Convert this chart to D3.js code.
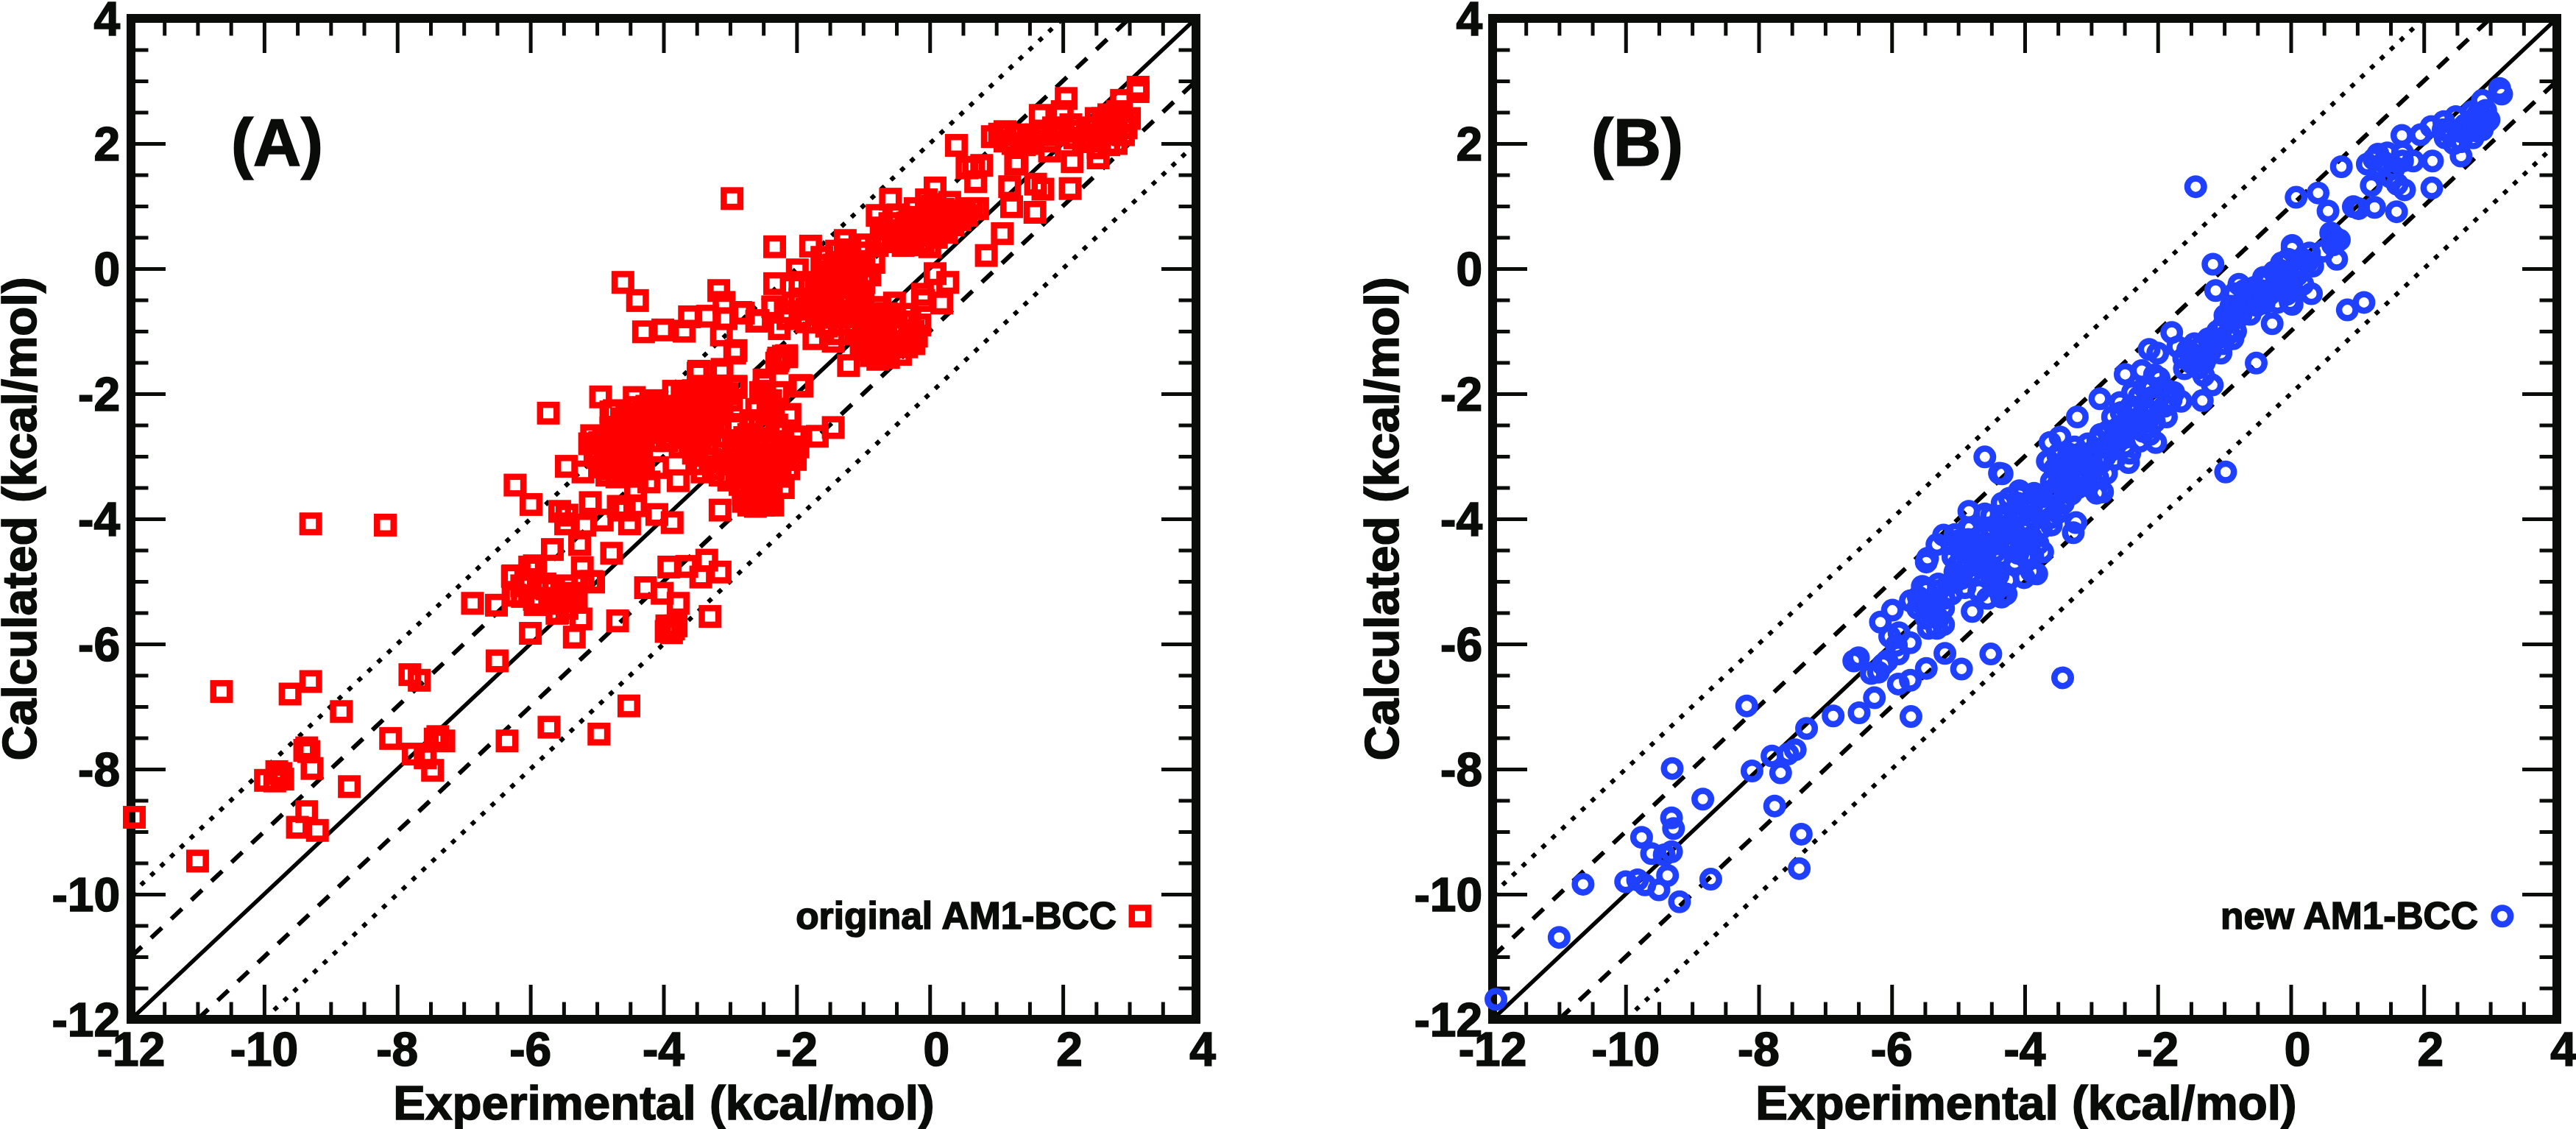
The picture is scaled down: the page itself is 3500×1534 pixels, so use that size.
<!DOCTYPE html>
<html><head><meta charset="utf-8">
<style>html,body{margin:0;padding:0;background:#fff}svg{display:block}</style>
<script src="https://cdn.jsdelivr.net/npm/d3@7"></script></head>
<body><svg id="c" width="3500" height="1534"></svg>
<script>
const majorTicks=[-12,-10,-8,-6,-4,-2,0,2,4];
const minorTicks=[-11.5,-11,-10.5,-9.5,-9,-8.5,-7.5,-7,-6.5,-5.5,-5,-4.5,-3.5,-3,-2.5,-1.5,-1,-0.5,0.5,1,1.5,2.5,3,3.5];
const xTitle="Experimental (kcal/mol)", yTitle="Calculated (kcal/mol)";
const refOffsets=[0,1,-1,2,-2];
const originalAM1BCC=[
[-9.30,-4.08],[-8.18,-4.10],[-10.64,-6.76],[-9.30,-6.60],[-9.61,-6.80],[-7.81,-6.49],[-7.67,-6.58],[-8.84,-7.08],[-8.10,-7.51],[-6.35,-7.55],[-5.72,-7.33],[-4.97,-7.44],[-4.52,-6.99],[-7.39,-7.48],[-7.30,-7.55],[-7.43,-7.52],[-7.76,-7.76],[-7.58,-7.82],[-7.47,-8.02],[-9.36,-7.66],[-9.33,-7.72],[-9.39,-7.70],[-9.28,-7.99],[-9.98,-8.18],[-9.81,-8.04],[-9.72,-8.16],[-9.84,-8.19],[-9.75,-8.07],[-8.72,-8.28],[-9.36,-8.68],[-9.50,-8.93],[-9.20,-8.98],[-11.95,-8.77],[-11.0,-9.47],[-6.50,-6.27],[-6.0,-5.83],[-5.34,-5.89],[-4.69,-5.63],[-6.87,-5.35],[-6.51,-5.38],[-5.67,-4.49],[-5.26,-4.41],[-4.78,-4.55],[-5.22,-4.78],[-4.27,-5.10],[-5.94,-4.75],[-6.26,-4.91],
[-6.07,-4.97],[-6.26,-5.22],[-5.94,-5.29],[-5.65,-5.13],[-5.53,-5.29],[-5.40,-5.19],[-5.59,-5.50],[-5.24,-5.60],[-5.08,-5.0],[-5.34,-5.32],[-5.78,-5.04],[-5.46,-5.07],[-6.13,-5.07],
[-5.73,-2.31],[-4.945,-2.05],[-4.44,-2.06],[-6.23,-3.46],[-5.99,-3.77],[-5.46,-3.16],[-5.21,-3.25],[-3.48,-1.67],[-3.13,-1.65],[-2.93,-1.35],[-2.91,-1.90],[-2.49,-1.78],[-2.27,-1.43],[-2.15,-1.41],[-1.95,-1.87],
[-6.23,-5.22],[-6.27,-4.92],[-6.01,-4.77],[-5.92,-4.80],[-5.93,-5.37],[-6.12,-5.24],[-5.21,-5.0],[-5.05,-5.01],[-5.75,-5.12],[-5.45,-5.20],[-5.53,-5.31],[-5.60,-5.51],[-5.31,-5.27],[-5.45,-5.43],[-5.71,-5.35],[-5.86,-5.27],
[-5.56,-3.88],[-5.45,-3.94],[-5.47,-4.08],[-5.10,-3.74],[-5.18,-4.10],[-4.92,-4.02],[-4.68,-3.80],[-4.51,-4.08],[-4.42,-3.79],[-4.59,-3.86],[-4.10,-3.93],[-3.87,-4.06],[-3.15,-3.86],[-3.78,-3.39],[-4.22,-3.41],[-4.42,-3.55],[-4.09,-3.18],
[-3.92,-4.77],[-3.65,-4.76],[-3.35,-4.66],[-3.44,-4.93],[-3.15,-4.85],[-4.02,-5.19],[-3.78,-5.35],[-3.30,-5.56],[-3.95,-5.71],[-3.85,-5.76],[-3.88,-5.82],[-3.81,-5.71],[-3.96,-5.80],
[-5.08,-2.67],[-5.11,-2.80],[-5.03,-2.90],[-4.96,-2.78],[-4.90,-2.70],[-4.88,-2.88],[-4.99,-3.02],[-4.84,-3.05],[-4.92,-3.17],[-4.81,-2.75],[-4.75,-2.62],[-4.72,-2.86],[-4.69,-3.01],[-4.78,-3.20],[-4.66,-3.13],[-4.62,-2.72],[-4.58,-2.90],[-4.55,-3.07],[-4.60,-3.25],[-4.48,-2.83],[-4.46,-2.98],[-4.43,-3.15],[-4.50,-3.30],[-4.37,-2.86],[-4.33,-3.02],[-4.30,-3.20],[-4.38,-2.70],[-4.85,-3.30],[-4.70,-3.33],[-4.40,-3.32],
[-4.79,-2.29],[-4.79,-2.55],[-4.63,-2.40],[-4.55,-2.32],[-4.48,-2.50],[-4.40,-2.22],[-4.30,-2.30],[-4.27,-2.55],[-4.20,-2.40],[-4.10,-2.12],[-4.02,-2.35],[-4.05,-2.60],[-3.95,-2.50],[-3.88,-2.70],[-3.80,-2.20],[-3.72,-2.05],[-3.68,-2.40],[-3.62,-2.60],[-3.55,-1.95],[-3.50,-2.20],[-3.42,-2.35],[-3.38,-1.90],[-3.30,-2.10],[-3.25,-2.48],[-3.18,-1.95],[-3.12,-2.20],[-3.05,-2.00],[-3.30,-2.65],[-3.46,-2.70],[-3.60,-2.80],[-3.75,-2.85],[-4.15,-2.75],[-3.43,-2.63],[-2.91,-2.49],[-2.43,-2.59],[-2.21,-2.63],[-2.10,-2.33],
[-4.35,-2.42],[-4.25,-2.2],[-4.12,-2.28],[-4.12,-2.48],[-3.98,-2.22],[-3.9,-2.4],[-3.82,-2.55],[-3.75,-2.3],[-3.6,-2.18],[-3.58,-2.45],[-3.5,-2.55],[-3.42,-2.08],[-3.35,-2.5],[-3.22,-2.32],[-3.65,-2.0],[-3.45,-1.88],[-3.3,-1.9],[-3.2,-2.15],[-4.6,-2.55],[-4.55,-2.7],[-4.3,-2.68],[-4.2,-2.62],[-3.95,-2.75],[-3.7,-2.7],[-2.98,-2.1],[-2.6,-2.25],[-2.55,-2.45],[-2.35,-2.3],[-2.3,-2.5],
[-3.55,-2.95],[-3.50,-3.12],[-3.42,-3.25],[-3.35,-2.90],[-3.30,-3.05],[-3.25,-3.20],[-3.20,-2.80],[-3.15,-3.30],[-3.10,-2.95],[-3.05,-3.12],[-3.02,-3.38],[-2.95,-2.75],[-2.92,-2.88],[-2.90,-3.02],[-2.88,-3.20],[-2.85,-3.45],[-2.80,-3.60],[-2.78,-2.70],[-2.74,-2.92],[-2.72,-3.10],[-2.70,-3.30],[-2.68,-3.50],[-2.65,-3.70],[-2.62,-2.80],[-2.60,-3.00],[-2.58,-3.18],[-2.55,-3.38],[-2.52,-3.58],[-2.50,-3.78],[-2.47,-2.85],[-2.45,-3.05],[-2.42,-3.25],[-2.40,-3.45],[-2.38,-3.65],[-2.36,-3.78],[-2.33,-2.78],[-2.30,-2.95],[-2.28,-3.12],[-2.25,-3.32],[-2.20,-3.50],[-2.18,-2.85],[-2.15,-3.05],[-2.12,-3.20],[-2.08,-2.95],[-2.02,-3.05],[-1.98,-2.85],[-2.00,-2.70],[-2.80,-3.72],[-2.72,-3.78],[-2.62,-3.80],
[-2.33,0.35],[-1.79,0.36],[-0.59,1.11],[-1.27,0.45],[-1.99,-0.02],[-2.33,-0.24],[-0.79,0.85],[0.08,1.29],[-0.05,1.10],[0.30,1.06],[-0.48,0.86],[-0.22,0.96],[0.04,1.0],[0.78,1.65],[0.56,1.61],[0.69,1.39],[0.40,1.97],[1.20,1.31],[1.23,0.99],[1.58,0.90],[1.59,1.35],[1.70,1.27],[2.11,1.28],[2.14,1.71],[1.31,1.69],[1.09,0.56],[0.85,0.21],[0.08,-0.08],[0.27,-0.22],[0.18,-0.55],[-0.09,-0.51],[-0.11,-0.41],[-0.53,-0.55],[-0.44,-1.37],[-1.22,-1.55],[-1.74,-1.12],[-1.45,-1.16],[-0.25,-1.0],[-0.24,-1.2],[-0.20,-1.08],[-1.45,-2.54],[-1.69,-2.68],[-1.93,-1.87],[-2.15,-1.39],[-2.28,-1.47],[-2.80,-0.71],[-2.60,-0.84],[-2.26,-0.96],[-2.36,-0.61],[-2.48,-1.84],[-2.91,-1.31],[-2.91,-1.88],[-2.97,1.12],
[-0.70,0.45],[-0.84,0.10],[-0.55,0.61],[-0.33,0.73],[-0.33,0.43],[-0.03,0.80],[-0.03,0.57],[0.19,0.76],[0.19,0.65],[0.41,0.88],[0.63,0.96],[0.72,0.96],[0.52,0.92],[0.34,0.80],[-0.55,0.43],[-0.18,0.76],[0.11,0.92],[-0.48,0.49],[-0.79,0.37],[-0.11,0.53],[-0.40,0.37],[-0.73,0.65],
[-0.65,0.5],[-0.6,0.72],[-0.4,0.6],[-0.25,0.55],[-0.15,0.65],[-0.25,0.38],[-0.1,0.42],[0.05,0.65],[0.1,0.5],[0.25,0.58],[0.35,0.7],[0.45,0.78],[0.55,0.85],[0.3,0.9],[0.2,0.95],[-0.05,0.95],[-0.3,0.82],[0.0,0.35],
[-1.62,0.18],[-1.43,0.06],[-1.25,0.22],[-0.99,0.25],[-1.62,-0.18],[-1.80,-0.26],[-1.95,-0.22],[-1.43,-0.22],[-1.23,-0.14],[-0.99,-0.22],[-1.51,-0.53],[-1.29,-0.49],[-1.07,-0.45],[-1.95,-0.49],[-1.77,-0.57],[-2.17,-0.69],[-1.95,-0.77],[-1.69,-0.73],[-1.40,-0.73],[-1.18,-0.77],[-0.92,-0.73],[-2.13,-0.80],
[-1.55,0.05],[-1.50,-0.05],[-1.35,0.1],[-1.3,-0.05],[-1.15,0.05],[-1.1,-0.1],[-1.0,0.05],[-1.6,-0.35],[-1.45,-0.4],[-1.3,-0.3],[-1.15,-0.3],[-1.0,-0.38],[-0.9,-0.1],[-1.2,0.3],[-1.05,0.38],[-1.4,0.28],
[-2.05,-0.55],[-1.85,-0.65],[-1.6,-0.62],[-1.5,-0.78],[-1.3,-0.68],[-1.1,-0.62],[-1.0,-0.85],[-1.85,-0.85],[-1.55,-0.92],
[-0.84,-0.80],[-0.70,-0.92],[-0.55,-0.77],[-0.37,-0.73],[-0.99,-1.0],[-0.84,-1.16],[-0.66,-1.12],[-0.48,-1.04],[-1.03,-1.24],[-0.88,-1.39],[-0.70,-1.31],[-1.36,-1.04],[-1.21,-0.88],
[-1.0,-0.65],[-0.75,-0.62],[-0.65,-0.72],[-0.5,-0.9],[-0.75,-1.02],[-0.6,-1.25],[-0.45,-1.2],[-0.3,-0.85],[-0.15,-0.9],[-0.3,-1.1],[-0.35,-1.25],[-0.9,-1.05],[-0.95,-1.3],[-0.78,-1.45],[-0.62,-1.42],
[-2.54,-1.98],[-2.28,-1.98],[-2.43,-2.18],[-2.69,-2.43],[-2.43,-2.49],[-2.72,-2.65],[-2.02,-2.92],[-2.17,-3.04],[-2.43,-2.96],[-2.43,-3.71],[-2.39,-3.51],
[2.05,2.72],[1.66,2.45],[3.13,2.83],[3.13,2.90],[2.88,2.69],[1.99,2.51],[0.66,1.62],[1.29,1.67],[2.53,1.77],
[0.94,2.11],[1.13,2.04],[1.29,2.14],[1.48,2.09],[1.61,2.14],[1.80,2.04],[1.93,2.14],[2.12,2.30],[2.18,2.09],[2.50,2.40],[2.53,2.09],[2.69,2.46],[2.72,2.19],[2.91,2.35],[2.91,2.14],[2.53,1.93],[2.37,2.25],[2.82,2.51],[1.86,2.25],[1.42,1.98],[1.13,2.19],[2.31,2.03],[2.63,2.30],[3.0,2.40],[1.8,1.88],[2.69,1.98],
[1.05,2.15],[1.25,2.0],[1.55,2.0],[1.7,2.2],[2.0,2.2],[2.25,2.2],[2.4,2.1],[2.6,2.15],[2.8,2.25],[2.8,2.0],[2.6,2.4],[2.95,2.25],
[-4.61,-0.22],[-4.39,-0.51],[-4.30,-1.01],[-4.01,-0.98],[-3.69,-1.0],[-3.61,-0.77],[-3.34,-0.76],[-3.17,-0.35],[-3.09,-0.54],[-3.06,-0.80],[-2.84,-0.70],[-2.58,-0.83],[-3.13,-1.06],[-3.47,-1.64],[-3.12,-1.61],[-2.93,-1.90],[-3.28,-1.90],[-3.62,-1.96],[-3.44,-2.24],[-3.22,-2.27],[-2.49,-1.96],[-1.92,-1.88],[-2.20,-1.40],[-2.30,-1.51],[-2.39,-2.11],[-2.11,-2.35],[-2.68,-2.46],[-2.45,-2.53],[-2.90,-2.54],[-2.02,-2.69],[-3.85,-1.96],[-4.17,-2.11],[-4.74,-2.27]
];
const newAM1BCC=[
[-11.95,-11.68],[-11.0,-10.69],[-10.64,-9.84],[-10.0,-9.80],[-9.82,-9.77],[-9.71,-9.85],[-9.50,-9.93],[-9.37,-9.70],[-9.19,-10.12],[-8.72,-9.76],[-9.76,-9.09],[-9.61,-9.35],[-9.42,-9.37],[-9.31,-9.32],[-9.28,-8.95],[-9.31,-8.78],[-8.84,-8.48],[-9.30,-7.99],[-8.18,-6.99],[-8.10,-8.03],[-7.80,-7.79],[-7.67,-8.06],[-7.56,-7.76],[-7.45,-7.69],[-7.28,-7.35],[-7.76,-8.59],[-7.36,-9.04],[-7.39,-9.59],[-6.88,-7.15],[-6.49,-7.10],[-6.26,-6.86],[-5.71,-7.16],[-5.90,-6.64],[-5.72,-6.58],[-5.48,-6.39],[-4.95,-6.40],[-5.20,-6.15],[-4.51,-6.16],[-3.43,-6.54],
[-6.57,-6.27],[-6.50,-6.22],[-6.31,-6.47],[-6.20,-6.45],[-6.13,-6.33],[-6.07,-6.27],[-5.90,-6.16],[-5.72,-5.98],[-6.03,-5.88],[-5.89,-5.82],[-5.93,-6.02],[-6.17,-5.65],[-5.99,-5.46],[-5.72,-5.31],[-5.54,-5.08],[-5.48,-5.14],[-5.30,-5.04],[-5.21,-5.27],[-5.61,-5.43],[-5.48,-5.43],[-5.37,-5.39],[-5.22,-5.43],[-5.48,-5.59],[-5.30,-5.59],[-5.32,-5.75],[-5.22,-5.69],[-4.79,-5.48],[-4.69,-5.16],[-4.56,-5.27],[-4.28,-5.20],[-4.41,-5.12],[-4.25,-4.98],[-5.04,-5.0],[-4.82,-4.88],[-4.52,-4.80],[-4.01,-4.94],[-3.82,-4.88],[-3.90,-4.84],[-3.73,-4.53],[-3.88,-4.59],[-5.46,-4.63],[-5.48,-4.69],[-5.32,-4.41],[-5.22,-4.26],[-4.84,-3.88],[-4.60,-3.92],[-4.60,-3.01],[-4.38,-3.27],
[-5.08,-4.61],[-4.97,-4.49],[-4.85,-4.33],[-5.0,-4.73],[-4.78,-4.53],[-4.63,-4.41],[-4.49,-4.26],[-4.45,-4.53],[-4.6,-4.65],[-4.26,-4.45],[-4.12,-4.26],[-3.90,-4.29],[-4.34,-3.75],[-4.08,-3.63],[-4.27,-3.98],[-4.04,-3.94],[-3.82,-3.63],[-3.75,-3.86],[-3.64,-3.59],[-3.60,-3.98],[-3.42,-3.75],[-3.42,-3.16],[-3.64,-3.08],[-3.49,-2.96],[-3.34,-3.51],[-3.97,-4.10],[-4.52,-4.14],[-4.82,-4.14],[-3.27,-4.22],[-3.23,-4.06],[-3.60,-4.10],[-3.49,-3.43],
[0.02,0.37],[-1.17,0.07],[-1.13,-0.35],[-0.78,-0.25],[-1.79,-1.02],[-0.28,-0.88],[-0.52,-1.51],[-0.98,-3.25],[-1.33,-2.11],[-1.18,-1.86],[-2.13,-1.29],[-2.0,-1.35],[-2.49,-1.69],[-2.24,-1.63],[-2.87,-2.08],[-3.21,-2.37],[-3.47,-2.69],[-3.62,-2.78],[-3.66,-3.08],[-2.03,-2.78],[-1.87,-2.37],[-1.65,-2.12],[-2.44,-3.10],[-2.77,-3.27],[-2.83,-3.57],[-2.92,-3.59],[-4.34,-3.28],
[-3.34,-2.96],[-3.12,-3.08],[-3.42,-3.27],[-3.20,-3.39],[-2.97,-3.20],[-2.79,-3.0],[-2.86,-2.65],[-2.68,-2.37],[-2.57,-2.14],[-2.38,-1.98],[-2.49,-2.49],[-2.31,-2.25],[-2.16,-2.45],[-2.12,-2.65],[-2.49,-2.84],[-2.27,-2.76],[-2.68,-2.73],[-2.09,-2.06],[-2.05,-1.70],[-1.94,-1.90],[-1.76,-1.98],[-2.20,-1.90],[-1.50,-1.35],[-1.24,-1.12],[-1.39,-1.59],[-1.20,-1.31],[-1.02,-1.20],[-0.83,-1.0],[-1.61,-1.43],[-1.31,-1.71],[-0.8,-0.61],[-0.65,-0.45],[-0.43,-0.22],[-0.17,-0.02],[-0.61,-0.73],[-0.94,-0.73],[-0.32,-0.41],[-0.06,-0.41],[-0.1,0.10],[0.02,-0.57],[-0.5,-0.49],[-1.02,-0.92],[-0.87,-1.12],
[-4.08,-3.55],[-3.86,-3.59],[-3.60,-3.55],[-3.45,-3.75],[-4.23,-3.67],[-3.97,-3.82],[-3.71,-3.82],[-3.05,-3.47],
[-3.5,-3.0],[-3.4,-3.12],[-3.3,-3.05],[-3.25,-2.85],[-3.15,-2.95],[-3.05,-2.8],[-3.0,-3.05],[-2.95,-2.9],[-2.9,-2.75],[-2.85,-3.1],[-2.8,-2.85],[-2.75,-2.6],[-2.7,-2.9],[-2.65,-3.05],[-2.6,-2.55],[-2.6,-2.75],[-2.55,-2.3],[-2.5,-2.65],[-2.45,-2.4],[-2.42,-2.95],[-2.4,-2.2],[-2.35,-2.55],[-2.3,-2.4],[-2.28,-2.05],[-2.22,-2.6],[-2.2,-2.2],[-2.15,-2.3],[-2.1,-1.9],[-2.05,-2.45],[-2.0,-2.1],[-1.98,-1.75],[-1.9,-2.2],[-1.85,-1.95],[-1.8,-2.1],[-3.35,-3.35],[-3.3,-3.22],[-3.15,-3.25],[-3.55,-3.2],[-3.6,-3.4],[-3.5,-3.6],[-3.3,-3.6],[-3.2,-3.5],[-2.9,-3.35],[-3.75,-3.65],[-3.9,-3.7],[-4.1,-3.75],[-4.15,-3.9],[-4.2,-4.1],[-4.0,-3.8],[-3.85,-4.0],[-3.75,-4.15],[-3.65,-3.85],[-3.5,-3.9],[-4.35,-3.95],[-4.4,-4.1],[-4.3,-4.25],[-4.2,-4.35],[-4.05,-4.4],[-4.5,-3.95],[-4.6,-4.2],[-4.7,-4.3],[-4.85,-4.5],[-4.95,-4.65],[-5.1,-4.4],[-4.65,-4.55],[-4.4,-4.4],[-4.35,-4.6],[-4.7,-4.75],[-4.9,-4.8],[-5.0,-4.35],[-5.05,-4.25],[-4.85,-4.15],[-4.55,-4.45],
[-1.7,-1.25],[-1.6,-1.6],[-1.55,-1.3],[-1.5,-1.5],[-1.45,-1.2],[-1.4,-1.4],[-1.35,-1.25],[-1.3,-1.5],[-1.25,-1.4],[-1.15,-1.15],[-1.1,-1.0],[-1.05,-1.35],[-0.95,-1.05],[-0.9,-0.85],[-0.9,-0.6],[-0.85,-0.4],[-0.7,-0.55],[-0.75,-0.75],[-0.7,-0.35],[-0.6,-0.5],[-0.55,-0.3],[-0.45,-0.35],[-0.4,-0.55],[-0.35,-0.2],[-0.25,-0.3],[-0.25,-0.05],[-0.15,-0.2],[-0.05,-0.15],[-0.05,-0.05],[0.1,-0.1],[0.15,0.05],[0.25,0.1],
[-5.6,-5.25],[-5.55,-5.35],[-5.4,-5.5],[-5.35,-5.28],[-5.3,-5.15],[-5.15,-5.05],[-5.1,-5.2],[-5.05,-4.85],[-4.95,-4.95],[-4.9,-5.1],[-4.75,-4.7],[-4.5,-4.95],[-4.4,-4.9],[-4.45,-5.05],[-4.35,-5.25],[-4.15,-4.7],[-4.0,-4.6],[-4.1,-4.55],[-3.8,-4.4],[-3.95,-4.4],[-5.45,-5.75],
[-1.43,1.31],[0.76,1.63],[0.08,1.14],[0.41,1.21],[0.56,0.92],[1.10,-0.54],[0.85,-0.66],[1.26,0.98],[0.94,0.99],[1.02,0.96],[1.59,0.91],[2.12,1.29],[1.21,1.33],[1.60,1.35],[1.71,1.26],[1.15,1.67],[1.31,1.83],[1.34,1.62],[1.50,1.46],[1.68,1.85],[1.68,1.72],[1.84,1.72],[2.13,1.72],[2.56,1.80],[1.67,2.13],[1.95,2.14],[2.11,2.27],[2.32,2.09],[2.48,2.43],[2.56,2.03],[2.56,2.19],[2.88,2.69],[3.14,2.88],[3.17,2.79],[2.88,2.35],[2.98,2.38],[2.72,2.51],[2.93,2.53],[2.74,2.09],[2.88,2.22],[2.66,2.19],[2.29,2.22],
[2.3,2.35],[2.4,2.2],[2.45,2.0],[2.62,2.3],[2.7,2.35],[2.8,2.45],[2.8,2.2],[2.95,2.35],[1.25,1.75],[1.4,1.7],[1.55,1.6],[1.45,1.85],
[0.65,0.51],[0.60,0.57],[0.73,0.46],[0.63,0.38],[0.69,0.15],[0.33,0.04],[0.02,0.33],[0.28,0.25],[0.49,0.28],[0.18,0.15],[-0.14,0.09],[-0.04,0.15],
[-0.41,-0.14],[-0.30,-0.33],[0.18,-0.25],[0.31,-0.40],[-0.01,-0.53],[-0.62,-0.33],[-0.51,-0.59],[-0.83,-0.70],[-0.99,-0.75],[-0.14,-0.28],[0.02,-0.33],[-0.2,-0.54],[-0.41,-0.43],[-0.73,-0.54]
];
const panels=[
 {data:originalAM1BCC,color:"#ff0000",mark:"square",left:178,right:1625,tag:"(A)",tagX:314,legend:"original AM1-BCC",legendX:1517,legendMark:[3.16,-10.35],xTitleX:902,yTitleX:49,yLabX:163},
 {data:newAM1BCC,color:"#2040ff",mark:"circle",left:2028,right:3474,tag:"(B)",tagX:2162,legend:"new AM1-BCC",legendX:3367,legendMark:[3.18,-10.35],xTitleX:2753,yTitleX:1900,yLabX:2014}
];
const INK="#0a0c0a", FONT="'Liberation Sans',Arial,sans-serif";
const TOP=25,BOTTOM=1385;
const svg=d3.select("#c").attr("font-family",FONT).attr("font-weight","bold").attr("fill",INK);
panels.forEach(p=>{
  const x=d3.scaleLinear().domain([-12,4]).range([p.left,p.right]);
  const y=d3.scaleLinear().domain([-12,4]).range([BOTTOM,TOP]);
  const g=svg.append("g");
  const line=d3.line().x(d=>x(d[0])).y(d=>y(d[1]));
  refOffsets.forEach(o=>{
    const a=Math.max(-12,-12-o), b=Math.min(4,4-o);
    const st=Math.abs(o)===0?null:Math.abs(o)===1?"20,17.5":"6.5,11.9";
    g.append("path").attr("d",line([[a,a+o],[b,b+o]])).attr("fill","none").attr("stroke","#000")
      .attr("stroke-width",o===0?5.5:6).attr("stroke-dasharray",st);
  });
  const ax=(gen,tr,vals,len)=>{const s=g.append("g").attr("transform",tr)
      .call(gen.tickValues(vals).tickSize(len).tickFormat(""));
    s.select(".domain").remove();
    s.selectAll("line").attr("stroke",INK).attr("stroke-width",5);
    s.selectAll("text").remove();
    return s;};
  [[majorTicks,47],[minorTicks,23.5]].forEach(([v,l])=>{
    ax(d3.axisBottom(x),`translate(0,${BOTTOM})`,v,-l);
    ax(d3.axisTop(x),`translate(0,${TOP})`,v,-l);
    ax(d3.axisLeft(y),`translate(${p.left},0)`,v,-l);
    ax(d3.axisRight(y),`translate(${p.right},0)`,v,-l);
  });
  const txt=g.append("g").attr("stroke",INK).attr("stroke-width",1.6);
  txt.append("g").selectAll("text").data(majorTicks).join("text")
    .attr("x",d=>x(d)+(d>=0?9:0)).attr("y",1448).attr("text-anchor","middle").attr("font-size",64).text(d=>d);
  txt.append("g").selectAll("text").data(majorTicks).join("text")
    .attr("x",p.yLabX).attr("y",d=>y(d)+23).attr("text-anchor","end").attr("font-size",64).text(d=>d);
  g.append("rect").attr("x",p.left).attr("y",TOP).attr("width",p.right-p.left).attr("height",BOTTOM-TOP)
    .attr("fill","none").attr("stroke",INK).attr("stroke-width",12).attr("stroke-linejoin","miter");
  txt.append("text").attr("x",p.xTitleX).attr("y",1521).attr("text-anchor","middle").attr("font-size",65.5).text(xTitle);
  txt.append("text").attr("transform",`translate(${p.yTitleX},705) rotate(-90)`).attr("text-anchor","middle").attr("font-size",65.7).text(yTitle);
  txt.append("text").attr("x",p.tagX).attr("y",225).attr("font-size",90).text(p.tag);
  txt.append("text").attr("x",p.legendX).attr("y",1262).attr("text-anchor","end").attr("font-size",51.5).text(p.legend);
  const draw=(sel)=>{
    if(p.mark==="square"){
      sel.join("rect").attr("x",d=>x(d[0])-11.25).attr("y",d=>y(d[1])-11.25).attr("width",22.5).attr("height",22.5);
    } else {
      sel.join("circle").attr("cx",d=>x(d[0])).attr("cy",d=>y(d[1])).attr("r",11.25);
    }
  };
  const mg=g.append("g").attr("fill","none").attr("stroke",p.color).attr("stroke-width",8.5);
  draw(mg.selectAll(".m").data(p.data));
  const lg=g.append("g").attr("fill","none").attr("stroke",p.color).attr("stroke-width",8.5);
  draw(lg.selectAll(".l").data([p.legendMark]));
});
</script></body></html>
